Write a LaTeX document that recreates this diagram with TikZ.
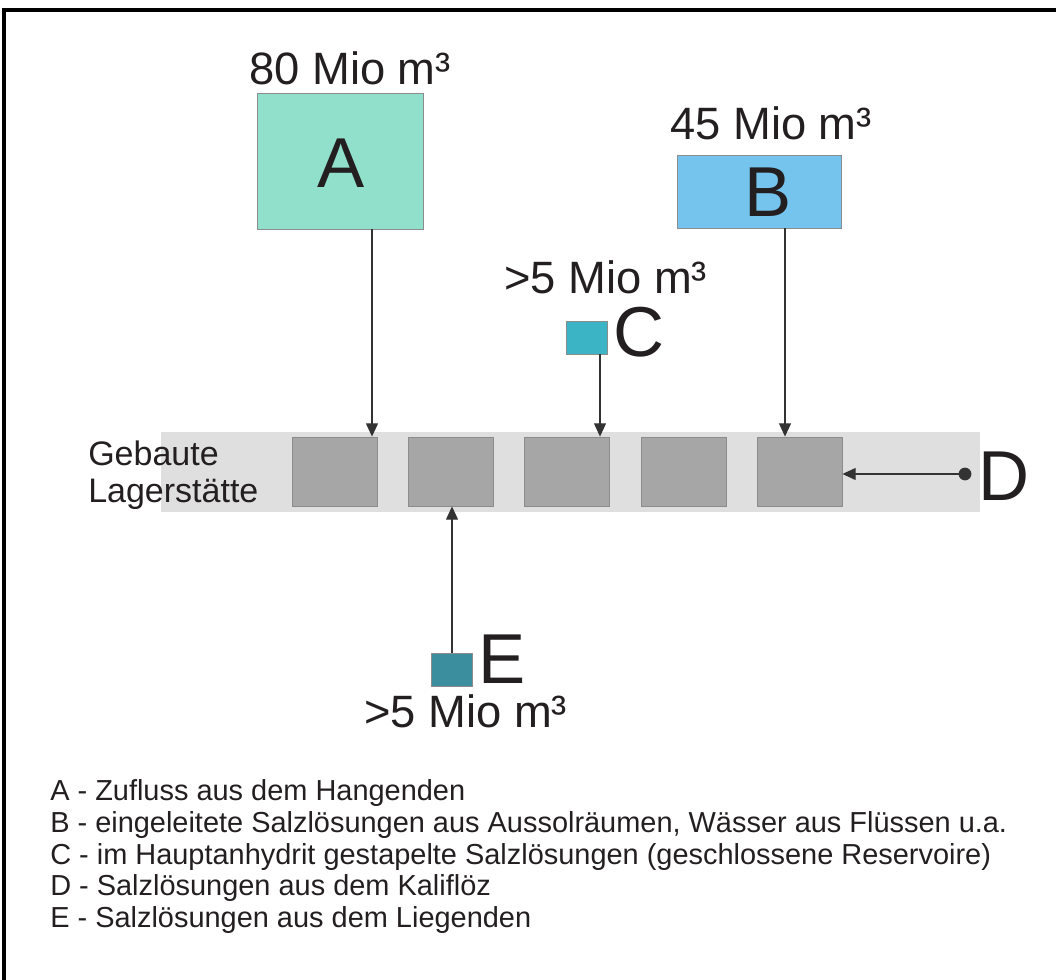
\documentclass[tikz,border=0pt]{standalone}
\usepackage{fontspec}
\setmainfont{Liberation Sans}
\usetikzlibrary{arrows.meta}
\definecolor{txt}{HTML}{231F20}
\definecolor{cA}{HTML}{90E0CC}
\definecolor{cB}{HTML}{74C4EE}
\definecolor{cC}{HTML}{3BB5C5}
\definecolor{cE}{HTML}{3A8E9E}
\definecolor{band}{HTML}{DFDFDF}
\definecolor{gbox}{HTML}{A6A6A6}
\definecolor{gedge}{HTML}{8C8C8C}
\definecolor{arr}{HTML}{333333}
\tikzset{
  srcbox/.style={draw=gedge, line width=0.6pt, inner sep=0pt},
  grube/.style={draw=gedge, fill=gbox, line width=0.6pt, minimum width=63.75pt, minimum height=51.75pt, inner sep=0pt},
  flow/.style={draw=arr, line width=1pt, -{Triangle[length=10pt,width=9pt]}},
  vol/.style={font=\fontsize{34}{40}\selectfont, text=txt, inner sep=0pt, anchor=base west},
  big/.style={font=\fontsize{53}{60}\selectfont, text=txt, inner sep=0pt, anchor=base},
  bigw/.style={font=\fontsize{53}{60}\selectfont, text=txt, inner sep=0pt, anchor=base west},
  leg/.style={font=\fontsize{21.7}{26}\selectfont, text=txt, inner sep=0pt, anchor=base west},
  geb/.style={font=\fontsize{25.5}{30}\selectfont, text=txt, inner sep=0pt, anchor=base west}
}
\begin{document}
\begin{tikzpicture}[x=0.75pt,y=-0.75pt]
\useasboundingbox (0,0) rectangle (1056,980);
% frame (right and bottom edges lie outside the picture)
\draw[line width=2.4pt, black] (4,990) -- (4,10) -- (1066,10);
% band
\node[fill=band, minimum width=614.25pt, minimum height=60pt, inner sep=0pt] (band) at (570.5,472) {};
% mined chambers
\node[grube] (g1) at (334.5,471.5) {};
\node[grube] (g2) at (450.5,471.5) {};
\node[grube] (g3) at (566.5,471.5) {};
\node[grube] (g4) at (683.5,471.5) {};
\node[grube] (g5) at (799.5,471.5) {};
% sources
\node[srcbox, fill=cA, minimum width=124.5pt, minimum height=102pt] (A) at (340,161) {};
\node[srcbox, fill=cB, minimum width=123pt, minimum height=54.75pt] (B) at (759,191.5) {};
\node[srcbox, fill=cC, minimum width=30.75pt, minimum height=24.75pt] (C) at (586.5,337.5) {};
\node[srcbox, fill=cE, minimum width=30.75pt, minimum height=24.75pt] (E) at (451.5,669.5) {};
% letters
\node[big] (lA) at (341,188) {A};
\node[big] (lB) at (768,217) {B};
\node[bigw] (lC) at (613,357) {C};
\node[bigw] (lD) at (978,500) {D};
\node[bigw] (lE) at (478,683) {E};
% volumes
\node[vol] (vA) at (249,85) {80 Mio m³};
\node[vol] (vB) at (670,140) {45 Mio m³};
\node[vol] (vC) at (504,294) {>5 Mio m³};
\node[vol] (vE) at (364,727) {>5 Mio m³};
% band label
\node[geb] (geb1) at (88,465) {Gebaute};
\node[geb] (geb2) at (88,502) {Lagerstätte};
% flows
\draw[flow] (372,0 |- A.south) -- (372,0 |- g1.north);
\draw[flow] (785,0 |- B.south) -- (785,0 |- g5.north);
\draw[flow] (600,0 |- C.south) -- (600,0 |- g3.north);
\draw[flow] (452,0 |- E.north) -- (452,0 |- g2.south);
\coordinate (dD) at (965,474);
\fill[arr] (dD) circle (4.8pt);
\draw[flow] (dD) -- (dD -| g5.east);
% legend
\node[leg] (l1) at (50,800) {A - Zufluss aus dem Hangenden};
\node[leg] (l2) at (50,832) {B - eingeleitete Salzlösungen aus Aussolräumen, Wässer aus Flüssen u.a.};
\node[leg] (l3) at (50,864) {C - im Hauptanhydrit gestapelte Salzlösungen (geschlossene Reservoire)};
\node[leg] (l4) at (50,895) {D - Salzlösungen aus dem Kaliflöz};
\node[leg] (l5) at (50,927) {E - Salzlösungen aus dem Liegenden};
\end{tikzpicture}
\end{document}
